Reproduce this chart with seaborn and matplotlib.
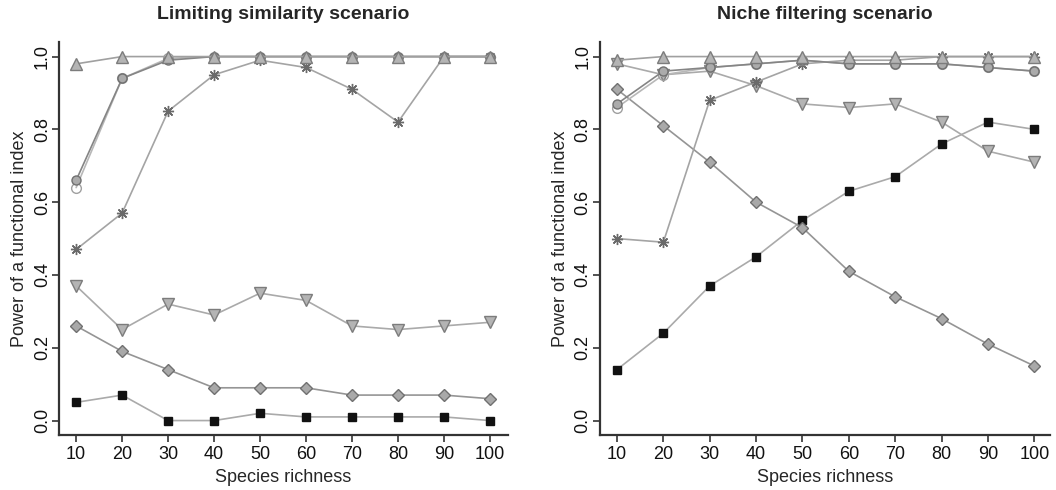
import numpy as np
import pandas as pd
import matplotlib
matplotlib.use("Agg")
import matplotlib.pyplot as plt
import seaborn as sns

richness = [10, 20, 30, 40, 50, 60, 70, 80, 90, 100]
titles = ["Limiting similarity scenario", "Niche filtering scenario"]
x_label = "Species richness"
y_label = "Power of a functional index"
y_ticks = [0.0, 0.2, 0.4, 0.6, 0.8, 1.0]

# Limiting similarity scenario
ls_square   = [0.05, 0.07, 0.00, 0.00, 0.02, 0.01, 0.01, 0.01, 0.01, 0.00]
ls_diamond  = [0.26, 0.19, 0.14, 0.09, 0.09, 0.09, 0.07, 0.07, 0.07, 0.06]
ls_down     = [0.37, 0.25, 0.32, 0.29, 0.35, 0.33, 0.26, 0.25, 0.26, 0.27]
ls_aster    = [0.47, 0.57, 0.85, 0.95, 0.99, 0.97, 0.91, 0.82, 1.00, 1.00]
ls_circle_f = [0.66, 0.94, 0.99, 1.00, 1.00, 1.00, 1.00, 1.00, 1.00, 1.00]
ls_circle_o = [0.64, 0.94, 0.995, 1.00, 1.00, 1.00, 1.00, 1.00, 1.00, 1.00]
ls_up       = [0.98, 1.00, 1.00, 1.00, 1.00, 1.00, 1.00, 1.00, 1.00, 1.00]

# Niche filtering scenario
nf_square   = [0.14, 0.24, 0.37, 0.45, 0.55, 0.63, 0.67, 0.76, 0.82, 0.80]
nf_diamond  = [0.91, 0.81, 0.71, 0.60, 0.53, 0.41, 0.34, 0.28, 0.21, 0.15]
nf_down     = [0.98, 0.95, 0.96, 0.92, 0.87, 0.86, 0.87, 0.82, 0.74, 0.71]
nf_aster    = [0.50, 0.49, 0.88, 0.93, 0.98, 0.99, 0.99, 1.00, 1.00, 1.00]
nf_circle_f = [0.87, 0.96, 0.97, 0.98, 0.99, 0.98, 0.98, 0.98, 0.97, 0.96]
nf_circle_o = [0.86, 0.95, 0.97, 0.98, 0.99, 0.98, 0.98, 0.98, 0.97, 0.96]
nf_up       = [0.99, 1.00, 1.00, 1.00, 1.00, 1.00, 1.00, 1.00, 1.00, 1.00]

panels = [
    [ls_square, ls_diamond, ls_down, ls_aster, ls_circle_o, ls_circle_f, ls_up],
    [nf_square, nf_diamond, nf_down, nf_aster, nf_circle_o, nf_circle_f, nf_up],
]

# style per series (same order as panel lists)
styles = [
    dict(marker="s", mfc="#111111", mec="#111111", ms=5.5, color="#aaaaaa"),
    dict(marker="D", mfc="#a9a9a9", mec="#707070", ms=5.8, color="#959595"),
    dict(marker="v", mfc="#b4b4b4", mec="#7c7c7c", ms=8, color="#aaaaaa"),
    dict(marker=(8, 2, 0), mfc="#6a6a6a", mec="#6a6a6a", ms=8, color="#a4a4a4"),
    dict(marker="o", mfc="none", mec="#a0a0a0", ms=7, color="#b8b8b8"),
    dict(marker="o", mfc="#ababab", mec="#707070", ms=6.5, color="#858585"),
    dict(marker="^", mfc="#b4b4b4", mec="#7c7c7c", ms=8, color="#a0a0a0"),
]

sns.set_theme(style="ticks")
plt.rcParams["font.family"] = ["Liberation Sans", "DejaVu Sans"]

fig = plt.figure(figsize=(10.56, 4.9), dpi=100)
ax_pos = [[0.056, 0.112, 0.425, 0.803], [0.568, 0.112, 0.426, 0.803]]
x_right = [103.9, 103.3]

for p, series in enumerate(panels):
    ax = fig.add_axes(ax_pos[p])
    for vals, st in zip(series, styles):
        df = pd.DataFrame({"richness": richness, "power": vals})
        sns.lineplot(data=df, x="richness", y="power", ax=ax,
                     color=st["color"], linewidth=1.2,
                     marker=st["marker"], markersize=st["ms"],
                     markerfacecolor=st["mfc"], markeredgecolor=st["mec"],
                     markeredgewidth=1.0)
    ax.set_xlim(6.3, x_right[p])
    ax.set_ylim(-0.04, 1.041)
    ax.set_xticks(richness)
    ax.set_xticklabels([str(r) for r in richness], fontsize=13)
    ax.set_yticks(y_ticks)
    ax.set_yticklabels([f"{t:.1f}" for t in y_ticks], fontsize=13,
                       rotation=90, va="center")
    ax.set_xlabel(x_label, fontsize=13, labelpad=5)
    ax.set_ylabel(y_label, fontsize=13, labelpad=4)
    ax.set_title(titles[p], fontsize=14, fontweight="bold", pad=16)
    for side in ["top", "right"]:
        ax.spines[side].set_visible(False)
    for side in ["left", "bottom"]:
        ax.spines[side].set_linewidth(1.6)
        ax.spines[side].set_color("#333333")
    ax.tick_params(axis="both", direction="out", length=5, width=1.2,
                   color="#333333", labelcolor="#111111")
    ax.tick_params(axis="y", pad=1)
    ax.tick_params(axis="x", pad=2.5)
    ax.grid(False)

fig.savefig("out.png", dpi=100)
